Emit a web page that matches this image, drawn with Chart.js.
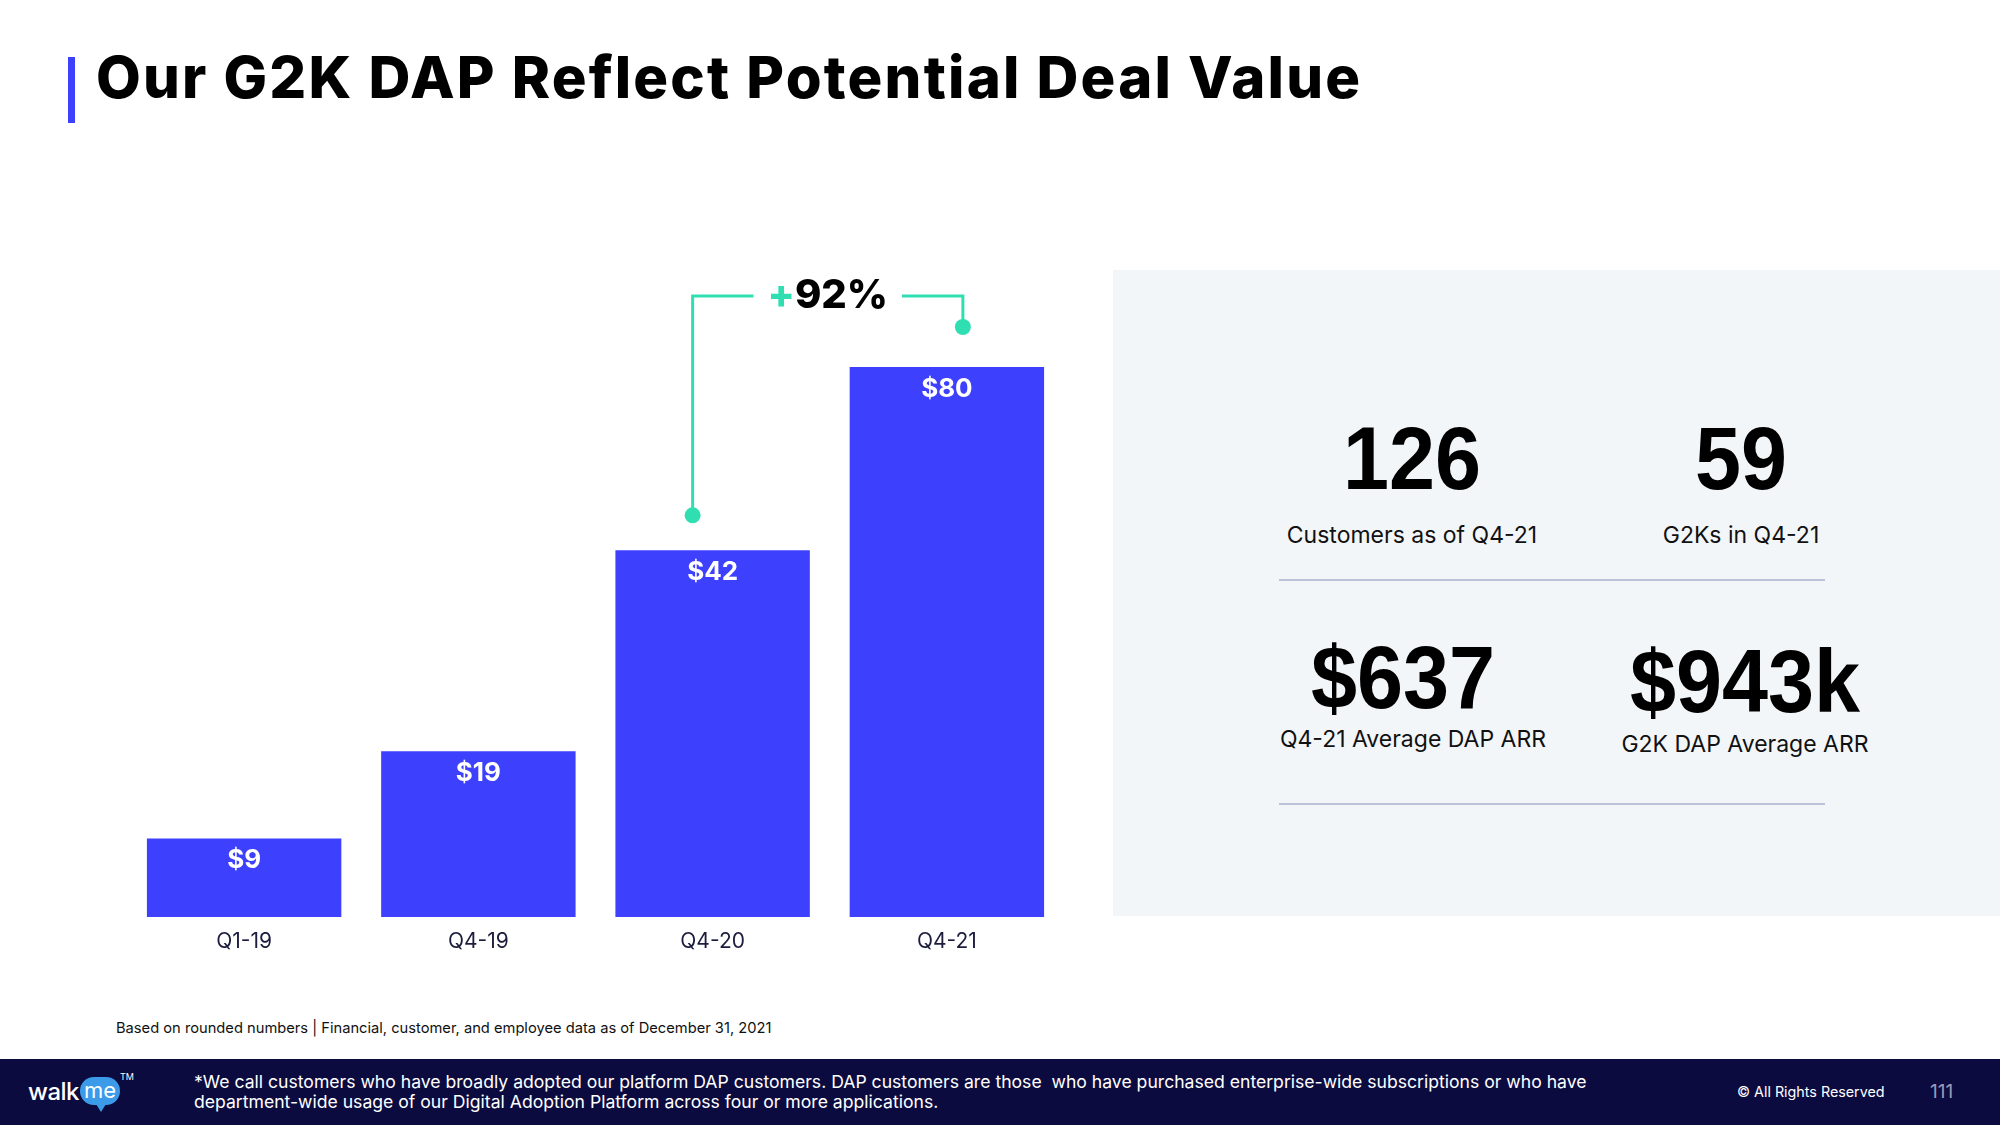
<!DOCTYPE html>
<html>
<head>
<meta charset="utf-8">
<script src="https://cdn.jsdelivr.net/npm/chart.js@4.4.1/dist/chart.umd.min.js"></script>
<style>
  html, body { margin: 0; padding: 0; }
  body { width: 2000px; height: 1125px; position: relative; overflow: hidden; background: #fff; font-family: 'Inter', 'Noto Sans', sans-serif; color: #1c1c3c; }
  .accent { position: absolute; left: 68px; top: 57px; width: 7px; height: 66px; background: #3d40fc; }
  .title { position: absolute; left: 96px; top: 42px; font-size: 58px; font-weight: 800; color: #000; white-space: nowrap; letter-spacing: 2.2px; }
  #chartBox { position: absolute; left: 0; top: 250px; width: 1100px; height: 720px; }
  .panel { position: absolute; left: 1113px; top: 270px; width: 887px; height: 646px; background: #f3f6f9; }
  .stat { position: absolute; width: 400px; margin-left: -200px; text-align: center; white-space: nowrap; }
  .num { font-family: 'Liberation Sans', Arial, sans-serif; font-weight: 700; font-size: 89px; color: #000; line-height: 1; transform: scaleX(0.93); }
  .cap { font-size: 23px; color: #111; line-height: 1; }
  .divider { position: absolute; left: 1279px; width: 546px; height: 2px; background: #bec2d8; }
  .note { position: absolute; left: 116px; top: 1019px; font-size: 14.7px; color: #111; white-space: nowrap; }
  .footer { position: absolute; left: 0; top: 1059px; width: 2000px; height: 66px; background: #0c0b40; color: #fff; }
  .ftext { position: absolute; left: 194px; top: 13px; font-size: 17.6px; line-height: 20px; white-space: nowrap; }
  .rights { position: absolute; left: 1737px; top: 24px; font-size: 14.3px; white-space: nowrap; }
  .page { position: absolute; left: 1930px; top: 21px; font-size: 19px; color: #9a9ab8; }
  .logo { position: absolute; left: 28px; top: 12px; height: 40px; }
  .logo .walk { position: absolute; left: 0; top: 6px; font-size: 24px; font-weight: 500; letter-spacing: -0.5px; }
  .logo .me { position: absolute; left: 52px; top: 6px; width: 40px; height: 28px; border-radius: 14px; background: #3b9be8; font-size: 22px; line-height: 26px; text-align: center; }
  .logo .me:after { content: ''; position: absolute; left: 16px; bottom: -7px; border-left: 5px solid transparent; border-right: 5px solid transparent; border-top: 8px solid #3b9be8; }
  .logo .tm { position: absolute; left: 92px; top: 0; font-size: 9px; }
</style>
</head>
<body>
<div class="accent"></div>
<div class="title">Our G2K DAP Reflect Potential Deal Value</div>

<div id="chartBox"><canvas id="dealChart"></canvas></div>

<div class="panel"></div>
<div id="stats"></div>
<div class="divider" style="top:579px"></div>
<div class="divider" style="top:803px"></div>

<div class="note">Based on rounded numbers | Financial, customer, and employee data as of December 31, 2021</div>

<div class="footer">
  <div class="logo"><span class="walk">walk</span><span class="me">me</span><span class="tm">TM</span></div>
  <div class="ftext">*We call customers who have broadly adopted our platform DAP customers. DAP customers are those&nbsp; who have purchased enterprise-wide subscriptions or who have<br>department-wide usage of our Digital Adoption Platform across four or more applications.</div>
  <div class="rights">© All Rights Reserved</div>
  <div class="page">111</div>
</div>

<script>
var quarters = ['Q1-19', 'Q4-19', 'Q4-20', 'Q4-21'];
var dealValues = [9, 19, 42, 80];
var valueLabels = ['$9', '$19', '$42', '$80'];
var growthLabel = '+92%';
var yMax = 63; // the slide cuts the last bar short

var statNumbers = ['126', '59', '$637', '$943k'];
var statCaptions = ['Customers as of Q4-21', 'G2Ks in Q4-21', 'Q4-21 Average DAP ARR', 'G2K DAP Average ARR'];

var blue = '#3d40fc';
var teal = '#2fdfb2';
var fontFam = "'Inter', 'Noto Sans', sans-serif";

// stats block: [number x, number top, caption x, caption top]
var statPos = [[1412, 414, 1412, 524], [1741, 414, 1741, 524], [1403, 633, 1413, 728], [1745, 637, 1745, 733]];
var statsDiv = document.getElementById('stats');
statNumbers.forEach(function(n, i) {
	var p = statPos[i];
	statsDiv.innerHTML += '<div class="stat num" style="left:' + p[0] + 'px;top:' + p[1] + 'px">' + n + '</div>' +
		'<div class="stat cap" style="left:' + p[2] + 'px;top:' + p[3] + 'px">' + statCaptions[i] + '</div>';
});

// white value labels inside the bars
var barLabels = {
	id: 'barLabels',
	afterDatasetsDraw: function(chart) {
		var ctx = chart.ctx;
		var top = chart.chartArea.top;
		ctx.save();
		ctx.fillStyle = '#fff';
		ctx.font = '700 26px ' + fontFam;
		ctx.textAlign = 'center';
		ctx.textBaseline = 'middle';
		chart.getDatasetMeta(0).data.forEach(function(bar, i) {
			ctx.fillText(valueLabels[i], bar.x, Math.max(bar.y, top) + 22);
		});
		ctx.restore();
	}
};

// +92% bracket between the last two bars
var growthBracket = {
	id: 'growthBracket',
	afterDraw: function(chart) {
		var ctx = chart.ctx;
		var top = chart.chartArea.top;
		var bars = chart.getDatasetMeta(0).data;
		var b3 = bars[2], b4 = bars[3];
		var x1 = b3.x - 20, y1 = b3.y - 35;
		var x2 = b4.x + 16, y2 = Math.max(b4.y, top) - 40;
		var yTop = top - 71;
		var mid = (x1 + x2) / 2;

		ctx.save();
		ctx.font = '800 40px ' + fontFam;
		var plusW = ctx.measureText('+').width;
		var restW = ctx.measureText(growthLabel.slice(1)).width;
		var tw = plusW + restW;
		var gap = 14;

		ctx.strokeStyle = teal;
		ctx.lineWidth = 3;
		ctx.beginPath();
		ctx.moveTo(x1, y1);
		ctx.lineTo(x1, yTop);
		ctx.lineTo(mid - tw / 2 - gap, yTop);
		ctx.moveTo(mid + tw / 2 + gap, yTop);
		ctx.lineTo(x2, yTop);
		ctx.lineTo(x2, y2);
		ctx.stroke();

		ctx.fillStyle = teal;
		[[x1, y1], [x2, y2]].forEach(function(p) {
			ctx.beginPath();
			ctx.arc(p[0], p[1], 8, 0, Math.PI * 2);
			ctx.fill();
		});

		ctx.textBaseline = 'middle';
		ctx.textAlign = 'left';
		ctx.fillText('+', mid - tw / 2, yTop);
		ctx.fillStyle = '#000';
		ctx.fillText(growthLabel.slice(1), mid - tw / 2 + plusW, yTop);
		ctx.restore();
	}
};

var config = {
	type: 'bar',
	data: {
		labels: quarters,
		datasets: [{
			data: dealValues,
			backgroundColor: blue,
			borderWidth: 0,
			barPercentage: 1,
			categoryPercentage: 0.83
		}]
	},
	options: {
		responsive: true,
		maintainAspectRatio: false,
		animation: false,
		layout: { padding: { top: 117, left: 127, right: 36, bottom: 0 } },
		plugins: {
			legend: { display: false },
			tooltip: { enabled: false }
		},
		scales: {
			x: {
				grid: { display: false },
				border: { display: false },
				ticks: {
					color: '#1c1c3c',
					font: { family: fontFam, size: 21 },
					padding: 4,
					maxRotation: 0
				},
				afterFit: function(axis) { axis.height = 53; }
			},
			y: {
				display: false,
				min: 0,
				max: yMax
			}
		}
	},
	plugins: [barLabels, growthBracket]
};

var dealChart = new Chart(document.getElementById('dealChart'), config);
</script>
</body>
</html>
